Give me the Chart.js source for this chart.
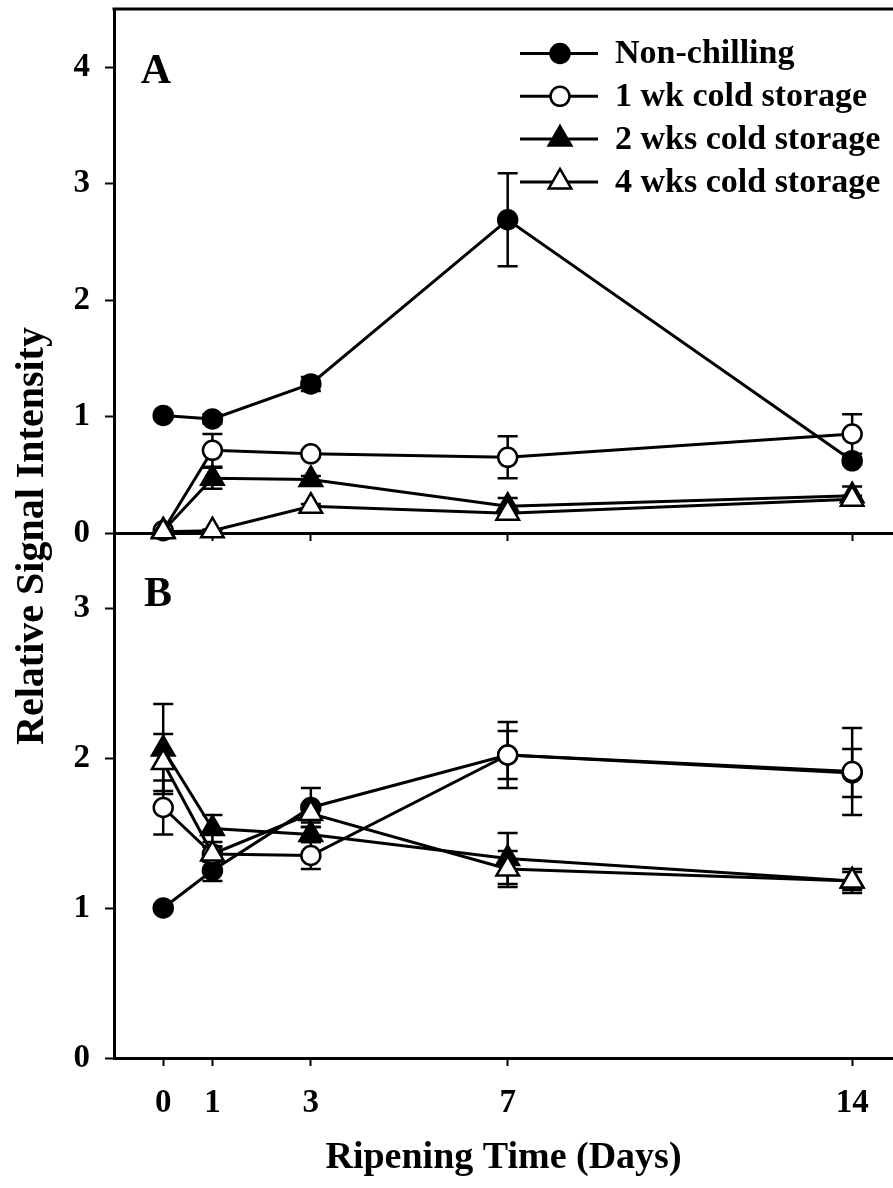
<!DOCTYPE html>
<html><head><meta charset="utf-8">
<script src="https://cdn.jsdelivr.net/npm/chart.js@4.4.1/dist/chart.umd.min.js"></script>
<style>
html,body{margin:0;padding:0;background:#fff;}
#wrap{position:relative;width:893px;height:1188px;overflow:hidden;background:#fff;}
#cB{position:absolute;left:0;top:0;width:893px;height:1188px;}
#cA{position:absolute;left:0;top:0;width:893px;height:545px;}
</style></head>
<body><div id="wrap"><canvas id="cB" width="893" height="1188"></canvas><canvas id="cA" width="893" height="545"></canvas></div>
<script>
// ---------- data ----------
const days = [0, 1, 3, 7, 14];
const xTickLabels = ['0', '1', '3', '7', '14'];
const yTicksA = [0, 1, 2, 3, 4];
const yTicksB = [0, 1, 2, 3];
const seriesLabels = ['Non-chilling', '1 wk cold storage', '2 wks cold storage', '4 wks cold storage'];

// Panel A
const nonChillA = [1.01, 0.98, 1.28, 2.69, 0.62];
const nonChillErrA = [0.02, 0.04, 0.06, 0.40, 0.03];
const oneWkA = [0.02, 0.71, 0.68, 0.65, 0.85];
const oneWkErrA = [0.01, 0.14, 0.03, 0.18, 0.17];
const twoWkA = [0.02, 0.47, 0.46, 0.23, 0.32];
const twoWkErrA = [0.01, 0.09, 0.03, 0.07, 0.08];
const fourWkA = [0.01, 0.02, 0.23, 0.17, 0.29];
const fourWkErrA = [0.01, 0.01, 0.02, 0.03, 0.03];

// Panel B
const nonChillB = [1.00, 1.25, 1.67, 2.02, 1.90];
const nonChillErrB = [0.02, 0.07, 0.13, 0.16, 0.16];
const oneWkB = [1.67, 1.36, 1.35, 2.02, 1.91];
const oneWkErrB = [0.18, 0.05, 0.09, 0.22, 0.29];
const twoWkB = [2.06, 1.53, 1.49, 1.33, 1.18];
const twoWkErrB = [0.30, 0.09, 0.05, 0.17, 0.08];
const fourWkB = [1.97, 1.36, 1.63, 1.26, 1.18];
const fourWkErrB = [0.19, 0.05, 0.06, 0.12, 0.06];

// ---------- styles ----------
const FONT = "'Liberation Serif','Times New Roman',Times,serif";
const styles = [
  {pointStyle: 'circle', radius: 9.5, fill: '#000'},
  {pointStyle: 'circle', radius: 9.5, fill: '#fff'},
  {pointStyle: 'triangle', radius: 13, fill: '#000'},
  {pointStyle: 'triangle', radius: 13, fill: '#fff'}
];

function makeDatasets(vals, errs) {
  return vals.map((v, i) => ({
    label: seriesLabels[i],
    data: days.map((d, j) => ({x: d, y: v[j]})),
    errors: errs[i],
    borderColor: '#000',
    borderWidth: 3,
    backgroundColor: styles[i].fill,
    pointStyle: styles[i].pointStyle,
    pointRadius: styles[i].radius,
    pointBackgroundColor: styles[i].fill,
    pointBorderColor: '#000',
    pointBorderWidth: 2.5,
    tension: 0,
    fill: false,
    clip: false,
    order: 3 - i
  }));
}

const errorBars = {
  id: 'errorBars',
  beforeDatasetsDraw(chart) {
    const ctx = chart.ctx;
    chart.data.datasets.forEach((ds, i) => {
      if (!ds.errors) return;
      const meta = chart.getDatasetMeta(i);
      const xs = chart.scales[meta.xAxisID], ys = chart.scales[meta.yAxisID];
      ctx.save();
      ctx.strokeStyle = '#000';
      ctx.lineWidth = 2.5;
      ds.data.forEach((p, j) => {
        const e = ds.errors[j];
        if (!e) return;
        const x = xs.getPixelForValue(p.x);
        const yt = ys.getPixelForValue(p.y + e);
        const yb = ys.getPixelForValue(p.y - e);
        ctx.beginPath();
        ctx.moveTo(x, yt); ctx.lineTo(x, yb);
        ctx.moveTo(x - 10, yt); ctx.lineTo(x + 10, yt);
        ctx.moveTo(x - 10, yb); ctx.lineTo(x + 10, yb);
        ctx.stroke();
      });
      ctx.restore();
    });
  }
};

function drawMarker(ctx, st, x, y) {
  ctx.fillStyle = st.fill;
  ctx.strokeStyle = '#000';
  ctx.lineWidth = 2.5;
  if (Chart.helpers && Chart.helpers.drawPoint) {
    Chart.helpers.drawPoint(ctx, {pointStyle: st.pointStyle, radius: st.radius, borderWidth: 2.5, rotation: 0}, x, y);
  } else {
    ctx.beginPath();
    if (st.pointStyle === 'circle') ctx.arc(x, y, st.radius, 0, Math.PI * 2);
    else {
      const r = st.radius;
      ctx.moveTo(x, y - r);
      ctx.lineTo(x + r * Math.sin(2 * Math.PI / 3), y - r * Math.cos(2 * Math.PI / 3));
      ctx.lineTo(x + r * Math.sin(4 * Math.PI / 3), y - r * Math.cos(4 * Math.PI / 3));
      ctx.closePath();
    }
    ctx.fill(); ctx.stroke();
  }
}

const decorA = {
  id: 'decorA',
  beforeDatasetsDraw(chart) {
    const {ctx, chartArea} = chart;
    ctx.save();
    ctx.strokeStyle = '#000';
    ctx.lineWidth = 3;
    ctx.beginPath();
    ctx.moveTo(chartArea.left - 1.5, chartArea.top);
    ctx.lineTo(chartArea.right, chartArea.top);
    ctx.stroke();
    ctx.restore();
  },
  afterDraw(chart) {
    const {ctx, chartArea} = chart;
    ctx.save();
    ctx.fillStyle = '#000';
    ctx.font = 'bold 42px ' + FONT;
    ctx.textAlign = 'center';
    ctx.textBaseline = 'middle';
    ctx.fillText('A', chartArea.left + 42, chartArea.top + 63);
    // legend
    const x1 = 520, x2 = 598, xm = 560, xt = 615;
    chart.data.datasets.forEach((ds, i) => {
      const y = 53.5 + i * 42.8;
      ctx.strokeStyle = '#000';
      ctx.lineWidth = 3;
      ctx.beginPath(); ctx.moveTo(x1, y); ctx.lineTo(x2, y); ctx.stroke();
      drawMarker(ctx, styles[i], xm, y);
      ctx.fillStyle = '#000';
      ctx.font = 'bold 34px ' + FONT;
      ctx.textAlign = 'left';
      ctx.textBaseline = 'middle';
      ctx.fillText(ds.label, xt, y + 1);
    });
    ctx.restore();
  }
};

const decorB = {
  id: 'decorB',
  afterDraw(chart) {
    const {ctx, chartArea} = chart;
    ctx.save();
    ctx.fillStyle = '#000';
    ctx.font = 'bold 42px ' + FONT;
    ctx.textAlign = 'center';
    ctx.textBaseline = 'middle';
    ctx.fillText('B', chartArea.left + 44, chartArea.top + 62);
    ctx.translate(33, chartArea.top + 3);
    ctx.rotate(-Math.PI / 2);
    ctx.font = 'bold 40px ' + FONT;
    ctx.fillText('Relative Signal Intensity', 0, 0);
    ctx.restore();
  }
};

function yScale(max, ticksArr) {
  return {
    type: 'linear', position: 'left', min: 0, max: max,
    afterBuildTicks: s => { s.ticks = ticksArr.map(v => ({value: v})); },
    afterFit: s => { s.width = 114; s.paddingTop = 0; s.paddingBottom = 0; },
    ticks: {color: '#000', padding: 15, font: {family: FONT, size: 33, weight: 'bold'}, callback: v => String(v)},
    grid: {drawOnChartArea: false, drawTicks: true, tickLength: 9, tickWidth: 2, tickColor: '#000'},
    border: {display: true, width: 3, color: '#000'}
  };
}

function xScale(height, showLabels, title) {
  return {
    type: 'linear', position: 'bottom', min: -1, max: 14.83,
    afterBuildTicks: s => { s.ticks = days.map(v => ({value: v})); },
    afterFit: s => { s.height = height; s.paddingLeft = 0; s.paddingRight = 0; },
    ticks: {display: showLabels, color: '#000', padding: 18, font: {family: FONT, size: 33, weight: 'bold'},
            callback: (v, i) => xTickLabels[i]},
    grid: {drawOnChartArea: false, drawTicks: true, tickLength: 8, tickWidth: 2, tickColor: '#000'},
    border: {display: true, width: 3, color: '#000'},
    title: title ? {display: true, text: title, color: '#000', font: {family: FONT, size: 38, weight: 'bold'}, padding: {top: 0, bottom: 7}} : {display: false}
  };
}

const common = {
  responsive: false, maintainAspectRatio: false, animation: false, devicePixelRatio: 1, events: [],
  plugins: {legend: {display: false}, tooltip: {enabled: false}, title: {display: false}}
};

new Chart(document.getElementById('cB'), {
  type: 'line',
  data: {datasets: makeDatasets([nonChillB, oneWkB, twoWkB, fourWkB], [nonChillErrB, oneWkErrB, twoWkErrB, fourWkErrB])},
  options: Object.assign({}, common, {
    layout: {autoPadding: false, padding: {top: 533, left: 0, right: 0, bottom: 0}},
    scales: {x: xScale(130, true, 'Ripening Time (Days)'), y: yScale(3.5, yTicksB)}
  }),
  plugins: [errorBars, decorB]
});

new Chart(document.getElementById('cA'), {
  type: 'line',
  data: {datasets: makeDatasets([nonChillA, oneWkA, twoWkA, fourWkA], [nonChillErrA, oneWkErrA, twoWkErrA, fourWkErrA])},
  options: Object.assign({}, common, {
    layout: {autoPadding: false, padding: {top: 9, left: 0, right: 0, bottom: 0}},
    scales: {x: xScale(12, false, null), y: yScale(4.5, yTicksA)}
  }),
  plugins: [errorBars, decorA]
});
</script>
</body></html>
